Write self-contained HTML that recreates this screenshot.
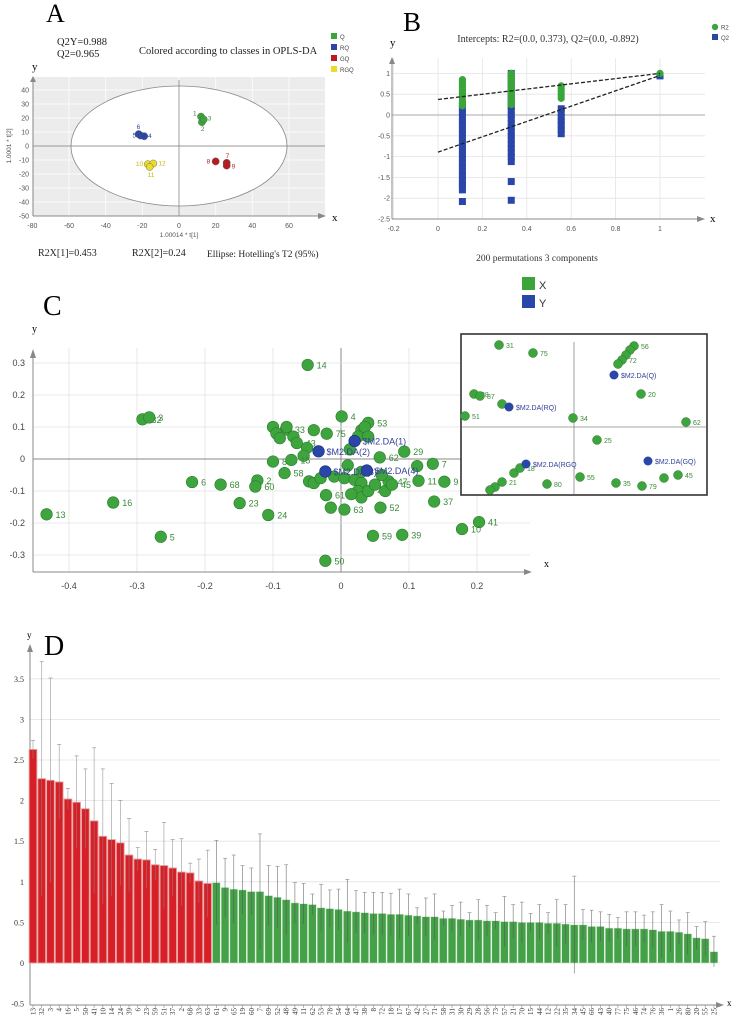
<!DOCTYPE html>
<html><head><meta charset="utf-8"><style>
html,body{margin:0;padding:0;background:#fff;}
svg{display:block;font-family:"Liberation Sans",sans-serif;}
.serif{font-family:"Liberation Serif",serif;}
</style></head><body>
<svg id="fig" width="738" height="1027" viewBox="0 0 738 1027" xmlns="http://www.w3.org/2000/svg">
<g id="pa"></g>
<g id="pb"></g>
<g id="pc"></g>
<g id="pd"></g>
</svg>
<script>
// ---------- Panel A data ----------
const aX = [12, 12.5, 13.5, -22, -21, -19, 20, 26, 26, -17, -14, -16];
const aY = [21, 17, 19, 8.5, 7.5, 7, -11, -12, -14, -13, -12.5, -15];
const aLabels = ['1','2','3','6','5','4','8','7','9','10','12','11'];
const aGroups = ['Q','Q','Q','RQ','RQ','RQ','GQ','GQ','GQ','RGQ','RGQ','RGQ'];
const aXTicks = [-80,-60,-40,-20,0,20,40,60];
const aYTicks = [-50,-40,-30,-20,-10,0,10,20,30,40];
// ---------- Panel B data ----------
const bR2x = [0.11,0.11,0.11,0.11,0.11,0.11,0.11,0.11,0.11,0.11,0.11,0.11,0.11,0.11,0.33,0.33,0.33,0.33,0.33,0.33,0.33,0.33,0.33,0.33,0.33,0.33,0.33,0.33,0.33,0.33,0.555,0.555,0.555,0.555,0.555,0.555,1];
const bR2y = [0.85,0.8,0.75,0.7,0.66,0.62,0.58,0.54,0.5,0.46,0.42,0.36,0.28,0.22,1.0,0.95,0.9,0.85,0.8,0.76,0.72,0.66,0.6,0.55,0.5,0.45,0.4,0.35,0.3,0.25,0.7,0.64,0.58,0.52,0.46,0.4,1.0];
const bQ2x = [0.11,0.11,0.11,0.11,0.11,0.11,0.11,0.11,0.11,0.11,0.11,0.11,0.11,0.11,0.11,0.11,0.11,0.11,0.11,0.11,0.11,0.11,0.11,0.33,0.33,0.33,0.33,0.33,0.33,0.33,0.33,0.33,0.33,0.33,0.33,0.33,0.33,0.33,0.33,0.33,0.33,0.33,0.33,0.33,0.33,0.33,0.33,0.555,0.555,0.555,0.555,0.555,0.555,0.555,1];
const bQ2y = [0.25,0.15,0.05,-0.05,-0.15,-0.25,-0.35,-0.45,-0.55,-0.65,-0.75,-0.85,-0.95,-1.05,-1.15,-1.25,-1.35,-1.45,-1.55,-1.65,-1.8,-2.08,-1.7,1.0,0.9,0.8,0.7,0.6,0.5,0.4,0.3,0.2,0.1,0.0,-0.1,-0.2,-0.3,-0.4,-0.5,-0.6,-0.7,-0.8,-0.9,-1.0,-1.12,-1.6,-2.05,0.15,0.05,-0.05,-0.15,-0.25,-0.35,-0.45,0.94];
const bR2Line = [0.373, 1.0];
const bQ2Line = [-0.892, 0.95];
const bXTicks = [-0.2,0,0.2,0.4,0.6,0.8,1];
const bYTicks = [-2.5,-2,-1.5,-1,-0.5,0,0.5,1];
// ---------- Panel C data ----------
const cX = [-0.049,-0.292,-0.282,0.001,0.04,-0.433,-0.335,-0.265,-0.219,-0.177,-0.123,-0.126,-0.149,-0.107,-0.083,-0.1,-0.081,-0.021,0.093,0.057,0.135,0.114,0.152,0.137,0.047,0.09,-0.023,0.058,0.005,-0.022,0.203,0.178,-0.1,-0.095,-0.09,-0.08,-0.07,-0.065,-0.04,-0.05,-0.055,-0.073,-0.047,-0.04,-0.03,-0.01,0.005,0.02,0.03,0.025,0.03,0.04,0.05,0.065,0.07,0.075,0.03,0.025,0.035,0.04,-0.015,0.015,0.013,0.01,0.03,0.06,0.112];
const cY = [0.294,0.124,0.13,0.133,0.113,-0.173,-0.136,-0.243,-0.072,-0.08,-0.067,-0.086,-0.138,-0.175,-0.044,-0.008,0.092,0.079,0.023,0.005,-0.015,-0.068,-0.071,-0.133,-0.24,-0.237,-0.318,-0.152,-0.158,-0.113,-0.197,-0.219,0.1,0.08,0.065,0.1,0.07,0.05,0.09,0.035,0.01,-0.003,-0.07,-0.075,-0.06,-0.055,-0.06,-0.065,-0.075,-0.1,-0.12,-0.1,-0.08,-0.1,-0.07,-0.08,0.09,0.07,0.1,0.07,-0.152,-0.11,0.03,-0.02,-0.04,-0.05,-0.022];
const cLabels = ['14','32','3','4','53','13','16','5','6','68','2','60','23','24','58','8','33','75','29','62','7','11','9','37','59','39','50','52','63','61','41','10','','','','','','43','','','','15','','','','','','','','','','42','','','47','45','','','','','','','','','','',''];
const cYX = [0.02,-0.033,-0.023,0.038];
const cYY = [0.056,0.024,-0.039,-0.036];
const cYLabels = ['$M2.DA(1)','$M2.DA(2)','$M2.DA(3)','$M2.DA(4)'];
const cXTicks = [-0.4,-0.3,-0.2,-0.1,0,0.1,0.2];
const cYTicks = [-0.3,-0.2,-0.1,0,0.1,0.2,0.3];
// ---------- Panel D data ----------
const dLabels = ['13','32','3','4','16','5','50','41','10','14','24','39','6','23','59','51','37','2','68','33','63','61','9','65','19','60','7','69','52','48','49','11','62','53','78','54','64','47','38','8','72','18','17','67','42','27','71','58','31','30','29','28','56','73','57','21','70','15','44','12','22','35','34','45','66','43','40','77','75','46','74','76','36','1','26','80','20','55','25'];
const dValues = [2.63,2.27,2.25,2.23,2.02,1.98,1.9,1.75,1.56,1.52,1.48,1.33,1.28,1.27,1.21,1.2,1.17,1.12,1.11,1.01,0.98,0.99,0.93,0.91,0.9,0.88,0.88,0.83,0.81,0.78,0.74,0.73,0.72,0.68,0.67,0.66,0.64,0.63,0.62,0.61,0.61,0.6,0.6,0.59,0.58,0.57,0.57,0.55,0.55,0.54,0.53,0.53,0.52,0.52,0.51,0.51,0.5,0.5,0.5,0.49,0.49,0.48,0.47,0.47,0.45,0.45,0.43,0.43,0.42,0.42,0.42,0.41,0.39,0.39,0.38,0.36,0.31,0.3,0.14];
const dErrTop = [2.74,3.71,3.51,2.69,2.15,2.55,2.39,2.65,2.39,2.21,2.0,1.78,1.42,1.62,1.4,1.73,1.52,1.53,1.23,1.28,1.39,1.51,1.29,1.33,1.2,1.17,1.59,1.2,1.19,1.21,0.99,0.98,0.85,0.97,0.9,0.91,1.03,0.89,0.87,0.87,0.87,0.86,0.91,0.85,0.68,0.8,0.85,0.64,0.71,0.75,0.62,0.78,0.71,0.62,0.82,0.72,0.75,0.61,0.72,0.62,0.78,0.72,1.07,0.66,0.65,0.63,0.6,0.56,0.63,0.63,0.59,0.63,0.72,0.64,0.53,0.62,0.45,0.51,0.33];
const dRedCount = 21;
const dYTicks = [-0.5,0,0.5,1,1.5,2,2.5,3,3.5];

const NS='http://www.w3.org/2000/svg';
function mk(parent,tag,attrs,text){const e=document.createElementNS(NS,tag);for(const k in attrs)e.setAttribute(k,attrs[k]);if(text!==undefined)e.textContent=text;parent.appendChild(e);return e;}

// ================= PANEL A =================
(function(){
const g=document.getElementById('pa');
const ax=v=>179+v*1.8333, ay=v=>146-v*1.4;
let t;
t=mk(g,'text',{x:46,y:22,'font-size':26,class:'serif'},'A');


t=mk(g,'text',{x:57,y:45,'font-size':10.5,class:'serif',fill:'#222'},'Q2Y=0.988');


t=mk(g,'text',{x:57,y:57,'font-size':10.5,class:'serif',fill:'#222'},'Q2=0.965');


t=mk(g,'text',{x:139,y:54,'font-size':10.5,class:'serif',fill:'#222'},'Colored according to classes in OPLS-DA');


t=mk(g,'text',{x:32,y:70,'font-size':11,class:'serif'},'y');


const bg=mk(g,'rect',{x:33,y:77,width:292,height:139,fill:'#ececec'});


for(const v of aXTicks){mk(g,'line',{x1:ax(v),x2:ax(v),y1:77,y2:216,stroke:'#fafafa','stroke-width':1});
 t=mk(g,'text',{x:ax(v),y:228,'font-size':7,'text-anchor':'middle',fill:'#555'},String(v));
 
 }
for(const v of aYTicks){mk(g,'line',{x1:33,x2:325,y1:ay(v),y2:ay(v),stroke:'#fafafa','stroke-width':1});
 t=mk(g,'text',{x:29,y:ay(v)+2.5,'font-size':7,'text-anchor':'end',fill:'#555'},String(v));
 
 }
const el=mk(g,'ellipse',{cx:ax(0),cy:ay(0),rx:108,ry:60,fill:'#fff',stroke:'#888','stroke-width':0.8});


mk(g,'line',{x1:ax(0),x2:ax(0),y1:80,y2:216,stroke:'#777','stroke-width':0.7});
mk(g,'line',{x1:33,x2:325,y1:ay(0),y2:ay(0),stroke:'#777','stroke-width':0.7});
mk(g,'line',{x1:33,x2:33,y1:216,y2:78,stroke:'#888','stroke-width':1});
mk(g,'polygon',{points:'30,82 36,82 33,76',fill:'#888'});
mk(g,'line',{x1:33,x2:320,y1:216,y2:216,stroke:'#888','stroke-width':1});
mk(g,'polygon',{points:'318,213 318,219 326,216',fill:'#888'});
t=mk(g,'text',{x:332,y:221,'font-size':11,class:'serif'},'x');


t=mk(g,'text',{x:179,y:237,'font-size':6.5,'text-anchor':'middle',fill:'#555'},'1.00014 * t[1]');


t=mk(g,'text',{x:0,y:0,'font-size':6.5,'text-anchor':'middle',fill:'#555',transform:'translate(11,146) rotate(-90)'},'1.0001 * t[2]');


const col={Q:'#3aa63a',RQ:'#2a46a8',GQ:'#b81c22',RGQ:'#e9dc2a'};
const lcol={Q:'#3a8a3a',RQ:'#2a46a8',GQ:'#b81c22',RGQ:'#c9b800'};
for(let i=0;i<aX.length;i++){
 const c=mk(g,'circle',{cx:ax(aX[i]),cy:ay(aY[i]),r:3.6,fill:col[aGroups[i]],stroke:'#555','stroke-width':0.4});
 
 
}
const lpos={'1':[-8,-1],'2':[-1,9],'3':[4,1],'6':[-2,-5],'5':[-8,2],'4':[4,2],'8':[-9,2],'7':[-1,-5],'9':[5,3],'10':[-12,2],'12':[5,2],'11':[-2,10]};
for(let i=0;i<aX.length;i++){const o=lpos[aLabels[i]];
 t=mk(g,'text',{x:ax(aX[i])+o[0],y:ay(aY[i])+o[1],'font-size':6.5,fill:lcol[aGroups[i]]},aLabels[i]);
 
 }
const legs=['Q','RQ','GQ','RGQ'];
legs.forEach((k,i)=>{const r=mk(g,'rect',{x:331,y:33+i*11,width:6,height:6,fill:col[k]});
 
 
 t=mk(g,'text',{x:340,y:39+i*11,'font-size':6,fill:'#444'},k);
 
 });
t=mk(g,'text',{x:38,y:256,'font-size':10,class:'serif',fill:'#222'},'R2X[1]=0.453');


t=mk(g,'text',{x:132,y:256,'font-size':10,class:'serif',fill:'#222'},'R2X[2]=0.24');


t=mk(g,'text',{x:207,y:257,'font-size':9.5,class:'serif',fill:'#222'},"Ellipse: Hotelling's T2 (95%)");


})();

// ================= PANEL B =================
(function(){
const g=document.getElementById('pb');
const bx=v=>438+v*222, by=v=>115-v*41.6;
let t;
t=mk(g,'text',{x:403,y:31,'font-size':27,class:'serif'},'B');


t=mk(g,'text',{x:390,y:46,'font-size':11,class:'serif'},'y');


t=mk(g,'text',{x:548,y:42,'font-size':10,'text-anchor':'middle',class:'serif',fill:'#333'},'Intercepts: R2=(0.0, 0.373), Q2=(0.0, -0.892)');


for(const v of bXTicks){mk(g,'line',{x1:bx(v),x2:bx(v),y1:58,y2:219,stroke:'#e4e4e4','stroke-width':0.8});
 t=mk(g,'text',{x:bx(v),y:231,'font-size':7,'text-anchor':'middle',fill:'#555'},String(v));
 
 }
for(const v of bYTicks){mk(g,'line',{x1:392,x2:705,y1:by(v),y2:by(v),stroke:v===0?'#bbb':'#e4e4e4','stroke-width':v===0?1.2:0.8});
 t=mk(g,'text',{x:390,y:by(v)+2.5,'font-size':7,'text-anchor':'end',fill:'#555'},String(v));
 
 }
mk(g,'line',{x1:392,x2:392,y1:219,y2:62,stroke:'#888','stroke-width':1});
mk(g,'polygon',{points:'389,64 395,64 392,57',fill:'#888'});
mk(g,'line',{x1:392,x2:700,y1:219,y2:219,stroke:'#888','stroke-width':1});
mk(g,'polygon',{points:'697,216 697,222 705,219',fill:'#888'});
t=mk(g,'text',{x:710,y:222,'font-size':11,class:'serif'},'x');


for(let i=0;i<bQ2x.length;i++){const r=mk(g,'rect',{x:bx(bQ2x[i])-3.5,y:by(bQ2y[i])-3.5,width:7,height:7,fill:'#2a46a8'});
 
 }
for(let i=0;i<bR2x.length;i++){const c=mk(g,'circle',{cx:bx(bR2x[i]),cy:by(bR2y[i]),r:3.6,fill:'#3aa63a'});
 
 }
let l=mk(g,'line',{x1:bx(0),y1:by(bR2Line[0]),x2:bx(1),y2:by(bR2Line[1]),stroke:'#222','stroke-width':1.3,'stroke-dasharray':'4,2'});


l=mk(g,'line',{x1:bx(0),y1:by(bQ2Line[0]),x2:bx(1),y2:by(bQ2Line[1]),stroke:'#222','stroke-width':1.3,'stroke-dasharray':'4,2'});


let c=mk(g,'circle',{cx:715,cy:27,r:3.2,fill:'#3aa63a'});


t=mk(g,'text',{x:721,y:29.5,'font-size':6,fill:'#444'},'R2');


let r=mk(g,'rect',{x:712,y:34,width:6,height:6,fill:'#2a46a8'});


t=mk(g,'text',{x:721,y:40,'font-size':6,fill:'#444'},'Q2');


t=mk(g,'text',{x:537,y:261,'font-size':9.5,'text-anchor':'middle',class:'serif',fill:'#333'},'200  permutations  3  components');


r=mk(g,'rect',{x:522,y:277,width:13,height:13,fill:'#3aa63a'});


t=mk(g,'text',{x:539,y:289,'font-size':11,fill:'#333'},'X');


r=mk(g,'rect',{x:522,y:295,width:13,height:13,fill:'#2a46a8'});


t=mk(g,'text',{x:539,y:307,'font-size':11,fill:'#333'},'Y');


})();

// ================= PANEL C =================
(function(){
const g=document.getElementById('pc');
const cx=v=>341+v*680, cy=v=>459-v*320;
let t;
t=mk(g,'text',{x:43,y:315,'font-size':28,class:'serif'},'C');


t=mk(g,'text',{x:32,y:332,'font-size':10,class:'serif'},'y');


for(const v of cXTicks){mk(g,'line',{x1:cx(v),x2:cx(v),y1:348,y2:572,stroke:v===0?'#888':'#e2e2e2','stroke-width':v===0?1:0.8});
 t=mk(g,'text',{x:cx(v),y:589,'font-size':9,'text-anchor':'middle',fill:'#444'},String(v));
 
 }
for(const v of cYTicks){mk(g,'line',{x1:33,x2:530,y1:cy(v),y2:cy(v),stroke:v===0?'#888':'#e2e2e2','stroke-width':v===0?1:0.8});
 t=mk(g,'text',{x:25,y:cy(v)+3,'font-size':9,'text-anchor':'end',fill:'#444'},String(v));
 
 }
mk(g,'line',{x1:33,x2:33,y1:572,y2:356,stroke:'#888','stroke-width':1});
mk(g,'polygon',{points:'30,358 36,358 33,349',fill:'#888'});
mk(g,'line',{x1:33,x2:526,y1:572,y2:572,stroke:'#888','stroke-width':1});
mk(g,'polygon',{points:'524,569 524,575 532,572',fill:'#888'});
t=mk(g,'text',{x:544,y:567,'font-size':10,class:'serif'},'x');


for(let i=0;i<cX.length;i++){const c=mk(g,'circle',{cx:cx(cX[i]),cy:cy(cY[i]),r:5.8,fill:'#3ea53e',stroke:'#2b7a2b','stroke-width':0.6});
 
 
 if(cLabels[i]){t=mk(g,'text',{x:cx(cX[i])+9,y:cy(cY[i])+3.5,'font-size':9,fill:'#3a8a3a'},cLabels[i]);
  
  }}
for(let i=0;i<cYX.length;i++){const c=mk(g,'circle',{cx:cx(cYX[i]),cy:cy(cYY[i]),r:5.8,fill:'#2a46a8',stroke:'#1a2a78','stroke-width':0.6});
 
 
 t=mk(g,'text',{x:cx(cYX[i])+8,y:cy(cYY[i])+3.5,'font-size':9,fill:'#34409a'},cYLabels[i]);
 
 }
// inset zoom box
const ins=mk(g,'g',{});


mk(ins,'rect',{x:461,y:334,width:246,height:161,fill:'#fff',stroke:'#333','stroke-width':1.6});
mk(ins,'line',{x1:574,x2:574,y1:342,y2:494,stroke:'#888','stroke-width':0.8});
mk(ins,'line',{x1:462,x2:706,y1:427,y2:427,stroke:'#888','stroke-width':0.8});
const ip=[[499,345,'31'],[533,353,'75'],[634,346,'56'],[630,350,''],[626,355,''],[622,360,'72'],[618,364,''],[641,394,'20'],[474,394,'28'],[480,396,'87'],[502,404,''],[465,416,'51'],[573,418,'34'],[686,422,'62'],[597,440,'25'],[580,477,'55'],[616,483,'35'],[642,486,'79'],[664,478,''],[678,475,'45'],[547,484,'80'],[502,482,'21'],[514,473,''],[520,468,'18'],[495,487,''],[490,490,'']];
for(const p of ip){const c=mk(ins,'circle',{cx:p[0],cy:p[1],r:4.5,fill:'#3ea53e',stroke:'#2b7a2b','stroke-width':0.5});
 
 
 if(p[2]){mk(ins,'text',{x:p[0]+7,y:p[1]+3,'font-size':7,fill:'#3a8a3a'},p[2]);}}
const ib=[[614,375,'$M2.DA(Q)'],[509,407,'$M2.DA(RQ)'],[526,464,'$M2.DA(RGQ'],[648,461,'$M2.DA(GQ)']];
for(const p of ib){const c=mk(ins,'circle',{cx:p[0],cy:p[1],r:4.5,fill:'#2a46a8'});
 
 
 mk(ins,'text',{x:p[0]+7,y:p[1]+3,'font-size':7,fill:'#34409a'},p[2]);}
})();

// ================= PANEL D =================
(function(){
const g=document.getElementById('pd');
const pitch=8.73, x0=33;
const dx=i=>x0+i*pitch, dy=v=>963-v*81.2;
let t;
t=mk(g,'text',{x:44,y:655,'font-size':28,class:'serif'},'D');


t=mk(g,'text',{x:27,y:638,'font-size':9,class:'serif'},'y');


for(const v of dYTicks){if(v>-0.5)mk(g,'line',{x1:30,x2:720,y1:dy(v),y2:dy(v),stroke:'#e2e2e2','stroke-width':0.8});
 t=mk(g,'text',{x:24,y:dy(v)+3,'font-size':8,'text-anchor':'end',class:'serif',fill:'#333'},String(v));
 
 }
mk(g,'line',{x1:30,x2:30,y1:1005,y2:648,stroke:'#888','stroke-width':1});
mk(g,'polygon',{points:'27,652 33,652 30,644',fill:'#888'});
for(let i=0;i<dValues.length;i++){
 const red=i<dRedCount, v=dValues[i];
 const r=mk(g,'rect',{x:dx(i)-pitch/2+0.5,y:dy(v),width:pitch-1,height:dy(0)-dy(v),fill:red?'#d61f26':'#45a148',stroke:red?'#e9a0a0':'#cfe8cf','stroke-width':red?0.9:0.5});
 
 
 const top=dErrTop[i], bot=2*v-top;
 const e=mk(g,'g',{});
 
 
 mk(e,'line',{x1:dx(i),x2:dx(i),y1:dy(top),y2:dy(bot),stroke:red?'#888':'#555','stroke-width':0.6,opacity:0.85});
 mk(e,'line',{x1:dx(i)-2,x2:dx(i)+2,y1:dy(top),y2:dy(top),stroke:'#888','stroke-width':0.6});
 t=mk(g,'text',{x:0,y:0,'font-size':7,class:'serif',fill:'#333',transform:'translate('+(dx(i)+2.5)+',1008) rotate(-90)','text-anchor':'end'},dLabels[i]);
 
 
 mk(g,'line',{x1:dx(i),x2:dx(i),y1:1005,y2:1008,stroke:'#888','stroke-width':0.6});
}
mk(g,'line',{x1:30,x2:718,y1:1005,y2:1005,stroke:'#888','stroke-width':1});
mk(g,'polygon',{points:'716,1002 716,1008 724,1005',fill:'#888'});
t=mk(g,'text',{x:727,y:1006,'font-size':9,class:'serif'},'x');


})();
</script>
</body></html>
